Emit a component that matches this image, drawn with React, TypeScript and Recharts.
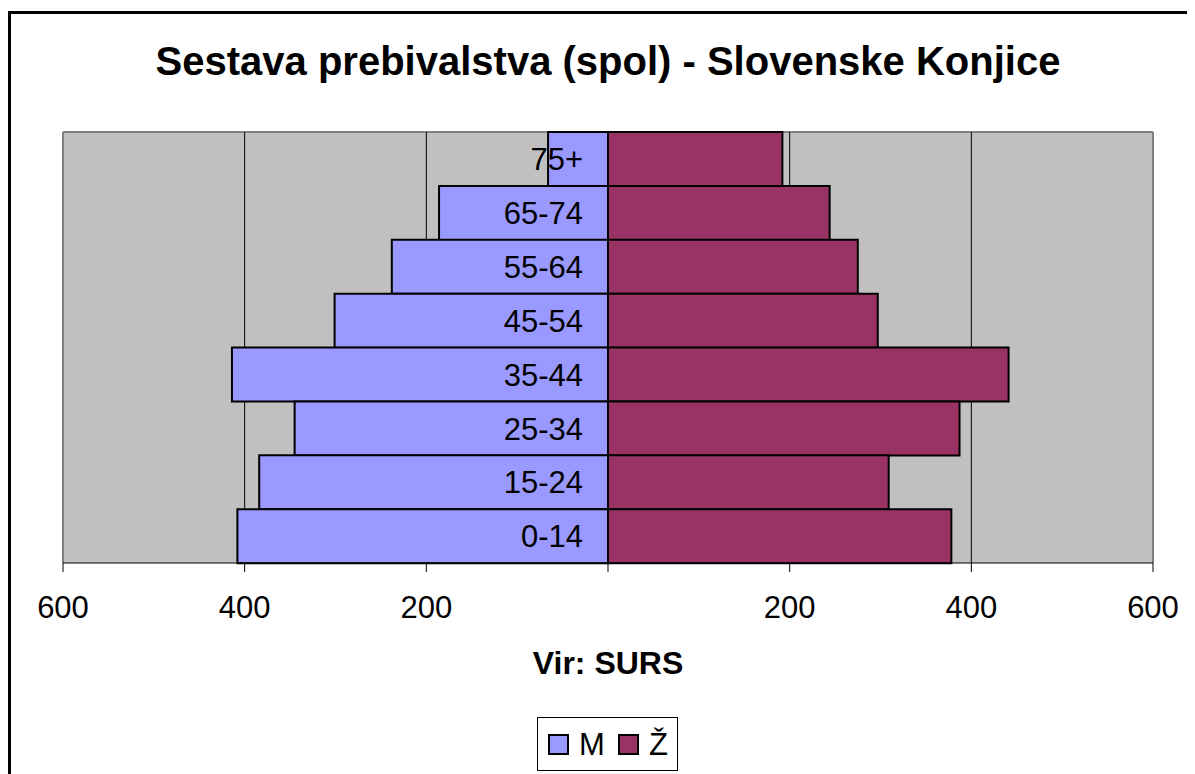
import { BarChart, Bar, XAxis, YAxis, CartesianGrid, Legend, LabelList, Label } from "recharts";

const FONT = "'Liberation Sans', Arial, sans-serif";

// age groups top to bottom
const ageGroups = ["75+", "65-74", "55-64", "45-54", "35-44", "25-34", "15-24", "0-14"];
const male = [66, 186, 238, 301, 414, 345, 384, 408];
const female = [192, 244, 275, 297, 441, 387, 309, 378];

const xTicks = [-600, -400, -200, 0, 200, 400, 600];
const gridValues = [-400, -200, 200, 400];

// male goes to the left, so it is stored negative
const data = ageGroups.map((age, i) => ({ age, M: -male[i], "Ž": female[i] }));

const renderAgeLabel = (props: any) => {
  const { x, y, height, value } = props;
  return (
    <text x={x - 25} y={y + height / 2} dy="0.36em" textAnchor="end" fontSize={31} fill="#000" fontFamily={FONT}>
      {value}
    </text>
  );
};

const renderLegend = (props: any) => {
  const items = props.payload || [];
  return (
    <div style={{ width: "100%", textAlign: "center" }}>
      <div
        style={{
          display: "inline-flex",
          alignItems: "center",
          border: "1.5px solid #000",
          height: 52,
          padding: "0 9px 0 10px",
          position: "relative",
          left: 6,
          background: "#fff",
        }}
      >
        {items.map((it: any, i: number) => (
          <span
            key={it.value}
            style={{ display: "inline-flex", alignItems: "center", marginRight: i < items.length - 1 ? 13 : 0 }}
          >
            <span style={{ display: "inline-block", width: 17, height: 17, background: it.color, border: "2px solid #000", marginRight: 10 }} />
            <span style={{ fontSize: 31, lineHeight: "31px" }}>{it.value}</span>
          </span>
        ))}
      </div>
    </div>
  );
};

export default function App() {
  return (
    <div style={{ position: "relative", width: 1187, height: 766, overflow: "hidden", fontFamily: FONT }}>
      <div
        style={{
          position: "absolute",
          left: 0,
          top: 3,
          width: 1400,
          height: 1000,
          borderTop: "3px solid #000",
          borderLeft: "3px solid #000",
        }}
      />
      <div
        style={{
          position: "absolute",
          left: 55,
          top: 33,
          width: 1090,
          textAlign: "center",
          fontSize: 40,
          fontWeight: "bold",
          lineHeight: "40px",
          zIndex: 2,
        }}
      >
        Sestava prebivalstva (spol) - Slovenske Konjice
      </div>
      <BarChart
        width={1187}
        height={766}
        data={data}
        layout="vertical"
        stackOffset="sign"
        barCategoryGap={0}
        barGap={0}
        margin={{ top: 124, right: 42, bottom: 151, left: 55 }}
        style={{ position: "absolute", left: 0, top: 0 }}
      >
        <CartesianGrid
          fill="#C0C0C0"
          stroke="#808080"
          strokeWidth={2}
          verticalCoordinatesGenerator={({ offset }: any) => [offset.left, offset.left + offset.width]}
          horizontalCoordinatesGenerator={({ offset }: any) => [offset.top]}
        />
        <CartesianGrid stroke="#000" strokeWidth={1} horizontal={false} verticalValues={gridValues} />
        <XAxis
          type="number"
          domain={[-600, 600]}
          ticks={xTicks}
          tickFormatter={(v: number) => (v === 0 ? "" : String(Math.abs(v)))}
          height={60}
          tickSize={9}
          tickMargin={24}
          stroke="#000"
          tick={{ fill: "#000", fontSize: 31, fontFamily: FONT }}
          interval={0}
        >
          <Label
            value="Vir: SURS"
            position="bottom"
            offset={28}
            style={{ fontSize: 32, fontWeight: "bold", fill: "#000", fontFamily: FONT }}
          />
        </XAxis>
        <YAxis type="category" dataKey="age" hide />
        <Bar dataKey="M" stackId="a" fill="#9999FF" stroke="#000" strokeWidth={2} isAnimationActive={false} />
        <Bar dataKey="Ž" stackId="a" fill="#993366" stroke="#000" strokeWidth={2} isAnimationActive={false}>
          <LabelList dataKey="age" content={renderAgeLabel} />
        </Bar>
        <Legend
          verticalAlign="middle"
          align="center"
          layout="horizontal"
          content={renderLegend}
          wrapperStyle={{ top: 709, left: 0, width: 1187 }}
        />
      </BarChart>
    </div>
  );
}
